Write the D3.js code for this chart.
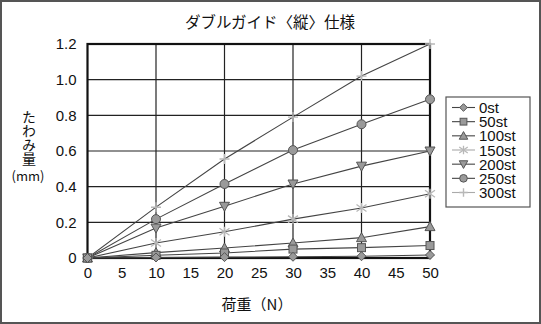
<!DOCTYPE html>
<html><head><meta charset="utf-8">
<script src="https://cdn.jsdelivr.net/npm/d3@7"></script>
<style>
html,body{margin:0;padding:0;background:#fff;}
svg{display:block;}
</style></head>
<body>
<svg id="c" width="541" height="324"></svg>
<script>
const title = "ダブルガイド〈縦〉仕様";
const xTitle = "荷重（N）";
const yTitle = "たわみ量";
const yUnit = "(mm)";
const loads = [0, 10, 20, 30, 40, 50];
const xTicks = [0, 5, 10, 15, 20, 25, 30, 35, 40, 45, 50];
const yTicks = [0, 0.2, 0.4, 0.6, 0.8, 1.0, 1.2];
const seriesNames = ["0st", "50st", "100st", "150st", "200st", "250st", "300st"];
const s0   = [0, 0.003, 0.005, 0.007, 0.01, 0.017];
const s50  = [0, 0.015, 0.028, 0.05, 0.058, 0.07];
const s100 = [0, 0.03, 0.056, 0.084, 0.114, 0.176];
const s150 = [0, 0.084, 0.147, 0.218, 0.28, 0.36];
const s200 = [0, 0.168, 0.29, 0.415, 0.515, 0.60];
const s250 = [0, 0.218, 0.415, 0.605, 0.75, 0.89];
const s300 = [0, 0.285, 0.555, 0.79, 1.02, 1.20];
const seriesValues = [s0, s50, s100, s150, s200, s250, s300];
const markers = ["diamond", "square", "triUp", "star", "triDown", "circle", "plus"];

const svg = d3.select("#c");
const numFont = "'Liberation Sans', Arial, sans-serif";
const jpFont = "'Noto Sans CJK JP', sans-serif";

// outer frame
svg.append("rect").attr("x",1).attr("y",1).attr("width",539).attr("height",322)
  .attr("fill","#fff").attr("stroke","#555").attr("stroke-width",2);

const L = 87.5, R = 430, T = 44, B = 258;
const x = d3.scaleLinear().domain([0,50]).range([L,R]);
const y = d3.scaleLinear().domain([0,1.2]).range([B,T]);

// title
svg.append("text").attr("x",270).attr("y",28).attr("text-anchor","middle")
  .attr("font-family",jpFont).attr("font-size",15.5).attr("fill","#111").text(title);

// grid
const g = svg.append("g");
g.selectAll(".vg").data([10,20,30,40]).enter().append("line")
  .attr("x1",d=>x(d)).attr("x2",d=>x(d)).attr("y1",T).attr("y2",B)
  .attr("stroke","#222").attr("stroke-width",1.2);
g.selectAll(".hg").data(yTicks.slice(1,-1)).enter().append("line")
  .attr("x1",L).attr("x2",R).attr("y1",d=>y(d)).attr("y2",d=>y(d))
  .attr("stroke","#222").attr("stroke-width",1.2);

// axes labels via d3 axes
const xAxis = d3.axisBottom(x).tickValues(xTicks).tickSize(0).tickPadding(9).tickFormat(d3.format("d"));
const xa = svg.append("g").attr("transform",`translate(0,${B})`).call(xAxis);
xa.select(".domain").remove();
xa.selectAll("text").attr("font-family",numFont).attr("font-size",15).attr("fill","#111");

const yAxis = d3.axisLeft(y).tickValues(yTicks).tickSize(0).tickPadding(11)
  .tickFormat(d => d === 0 ? "0" : d3.format(".1f")(d));
const ya = svg.append("g").attr("transform",`translate(${L},0)`).call(yAxis);
ya.select(".domain").remove();
ya.selectAll("text").attr("font-family",numFont).attr("font-size",15).attr("fill","#111");

// plot frame
svg.append("rect").attr("x",L).attr("y",T).attr("width",R-L).attr("height",B-T)
  .attr("fill","none").attr("stroke","#111").attr("stroke-width",2.2);

// marker drawing
function drawMarker(sel, type, cx, cy, scale) {
  const s = scale || 1;
  const dark = "#555", fill = "#9a9a9a", light = "#b8b8b8";
  if (type === "diamond") {
    const r = 4.5*s;
    sel.append("path").attr("d",`M${cx},${cy-r}L${cx+r},${cy}L${cx},${cy+r}L${cx-r},${cy}Z`)
      .attr("fill",fill).attr("stroke",dark).attr("stroke-width",1);
  } else if (type === "square") {
    const r = 4*s;
    sel.append("rect").attr("x",cx-r).attr("y",cy-r).attr("width",2*r).attr("height",2*r)
      .attr("fill",fill).attr("stroke",dark).attr("stroke-width",1);
  } else if (type === "triUp") {
    const r = 5*s;
    sel.append("path").attr("d",`M${cx},${cy-r}L${cx+r},${cy+r*0.8}L${cx-r},${cy+r*0.8}Z`)
      .attr("fill",fill).attr("stroke",dark).attr("stroke-width",1);
  } else if (type === "triDown") {
    const r = 5*s;
    sel.append("path").attr("d",`M${cx-r},${cy-r*0.8}L${cx+r},${cy-r*0.8}L${cx},${cy+r}Z`)
      .attr("fill",fill).attr("stroke",dark).attr("stroke-width",1);
  } else if (type === "circle") {
    sel.append("circle").attr("cx",cx).attr("cy",cy).attr("r",4.5*s)
      .attr("fill",fill).attr("stroke",dark).attr("stroke-width",1);
  } else if (type === "star") {
    const r = 5*s;
    sel.append("path").attr("d",`M${cx-r},${cy-r*0.7}L${cx+r},${cy+r*0.7}M${cx-r},${cy+r*0.7}L${cx+r},${cy-r*0.7}M${cx},${cy-r}L${cx},${cy+r}`)
      .attr("stroke",light).attr("stroke-width",1.3).attr("fill","none");
  } else if (type === "plus") {
    const r = 5*s;
    sel.append("path").attr("d",`M${cx-r},${cy}L${cx+r},${cy}M${cx},${cy-r}L${cx},${cy+r}`)
      .attr("stroke",light).attr("stroke-width",1.4).attr("fill","none");
  }
}

// lines
const line = d3.line().x((d,i)=>x(loads[i])).y(d=>y(d));
const lg = svg.append("g");
seriesValues.forEach((vals, k) => {
  lg.append("path").attr("d", line(vals)).attr("fill","none")
    .attr("stroke","#444").attr("stroke-width",1.1);
});
// markers (drawn in reverse so small series on top)
const mg = svg.append("g");
for (let k = seriesValues.length-1; k >= 0; k--) {
  seriesValues[k].forEach((v,i) => drawMarker(mg, markers[k], x(loads[i]), y(v)));
}

// legend
const lgx = 446, lgy = 97, lgw = 84, lgh = 110;
svg.append("rect").attr("x",lgx).attr("y",lgy).attr("width",lgw).attr("height",lgh)
  .attr("fill","#fff").attr("stroke","#555").attr("stroke-width",1.2);
const legRow = d3.scaleLinear().domain([0,6]).range([107.5,192.5]);
seriesNames.forEach((name,k) => {
  const ry = legRow(k);
  const lightLine = (markers[k]==="star"||markers[k]==="plus");
  svg.append("line").attr("x1",452).attr("x2",475).attr("y1",ry).attr("y2",ry)
    .attr("stroke", lightLine ? "#aaa" : "#444").attr("stroke-width",1.1);
  drawMarker(svg, markers[k], 463.5, ry, 0.85);
});
const legText = svg.append("text").attr("font-family",numFont)
  .attr("font-size",15).attr("fill","#111");
legText.selectAll("tspan").data(seriesNames).enter().append("tspan")
  .attr("x",479).attr("y",(d,k)=>legRow(k)+5.5).text(d=>d);

// x title
svg.append("text").attr("x",257).attr("y",310).attr("text-anchor","middle")
  .attr("font-family",jpFont).attr("font-size",15).attr("fill","#111").text(xTitle);

// y title (vertical)
svg.append("text").attr("x",29).attr("y",110)
  .style("writing-mode","vertical-rl").style("text-orientation","upright")
  .attr("font-family",jpFont).attr("font-size",14).attr("fill","#111").text(yTitle);
svg.append("text").attr("x",28).attr("y",181).attr("text-anchor","middle")
  .attr("font-family",jpFont).attr("font-size",13).attr("fill","#111").text(yUnit);
</script>
</body></html>
